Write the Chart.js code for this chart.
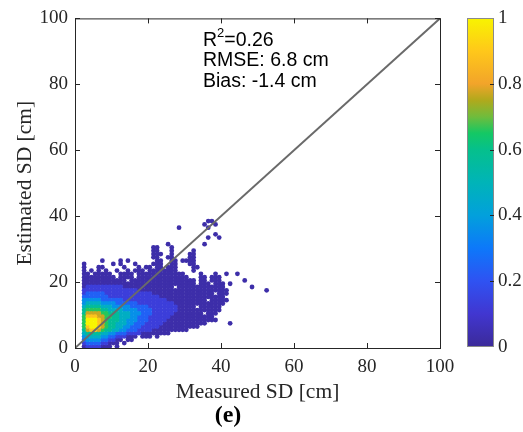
<!DOCTYPE html>
<html>
<head>
<meta charset="utf-8">
<script src="https://cdn.jsdelivr.net/npm/chart.js@4.4.0/dist/chart.umd.min.js"></script>
<style>
  html, body { margin: 0; padding: 0; background: #fff; }
  canvas { display: block; }
</style>
</head>
<body>
<canvas id="chart" width="523" height="432"></canvas>
<script>
// density cells: one string per 1 cm row of estimated SD (first row = 38 cm),
// one char per 1 cm column of measured SD (0..54 cm), '|' every 10 columns.
// '.' = no point, 0..9 = colour level (see levelDensity)
const gridTopRow = 38;
const densityRows = [
  "..........|..........|..........|......00..|..........|.....", // 38
  "..........|..........|..........|.....0..0.|..........|.....",
  "..........|..........|........0.|......0...|..........|.....",
  "..........|..........|..........|..........|..........|.....",
  "..........|..........|..........|........0.|..........|.....",
  "..........|..........|..........|......0..0|..........|.....", // 33
  "..........|..........|..........|..........|..........|.....",
  "..........|..........|.....0....|.....0....|..........|.....",
  "..........|..........|.00...0...|..........|..........|.....", // 30
  "..........|..........|.00...0...|..0.......|..........|.....",
  "..........|..........|.000..0...|.00.......|..........|.....",
  "..........|..........|.00..00...|.00.......|..........|.....",
  ".......0..|..0.0.....|..00..00.0|000.......|..........|.....",
  "..0.......|0.0...0...|.000..00..|.00.......|..........|.....", // 25
  "..0...00..|...0...0.0|0.00.000..|..00......|..........|.....",
  "..0.0.0.0.|.0..0.000.|00000000..|..0.......|..........|.....",
  "..00.00000|..0000.000|0000000000|....0...0.|.0..0.....|.....",
  "..00000000|0.0000.000|0000000000|0...00.000|..........|.....",
  "..00000000|0000.00000|0000000000|000.00.000|......0...|.....", // 20
  "..00000000|0000000000|0000000000|000.000.00|0.0.......|.....",
  "..01111111|1110000000|0000000.00|0000000000|0.......0.|.....",
  "..11111111|1111111000|0000000000|0000000000|00........|..0..",
  "..12222211|1111111111|1000000000|00000000.0|00........|.....",
  "..22222221|1111111111|1110000000|0000000000|0.........|.....", // 15
  "..33333222|2221111111|1111100000|000000.000|00........|.....",
  "..34444333|3222222111|1111111000|0000000000|0.........|.....",
  "..45555444|3333322222|1111111100|000.000000|..........|.....",
  "..56666554|4443333222|2111111100|0000000000|..........|.....",
  "..57777665|5544433322|2111111000|00000.000.|..........|.....", // 10
  "..68887766|5544433222|1111110000|00000000..|..........|.....",
  "..69998765|5544333222|1111100000|000000000.|..........|.....",
  "..69998765|5444332221|1111000000|000000....|..0.......|.....",
  "..68998765|5443322211|1110000000|0000......|..........|.....",
  "..57887655|4433222111|1000000000|0.........|..........|.....", // 5
  "..45555443|3222111100|000000....|..........|..........|.....",
  "..34444332|2111000.00|0.0.......|..........|..........|.....",
  "..23333221|100.00....|..........|..........|..........|.....",
  "..12222110|00.0......|..........|..........|..........|.....",
  "..01111000|.0........|..........|..........|..........|....."  // 0
];
const levelDensity = [0.03, 0.13, 0.24, 0.36, 0.47, 0.57, 0.66, 0.77, 0.89, 1.0];

const xTickValues = [0, 20, 40, 60, 80, 100];
const yTickValues = [0, 20, 40, 60, 80, 100];
const colorbarTicks = [0, 0.2, 0.4, 0.6, 0.8, 1];
const colorbarLabels = ['0', '0.2', '0.4', '0.6', '0.8', '1'];
const oneToOneX = [0, 100];
const oneToOneY = [0, 100];
const statR2 = '0.26';
const statRmse = '6.8 cm';
const statBias = '-1.4 cm';
const panelLabel = '(e)';

// colormap of the colour bar
const cmapPos = [0, 0.1, 0.2, 0.3, 0.4, 0.5, 0.6, 0.65, 0.7, 0.75, 0.8, 0.9, 1];
const cmapCol = ['#3b2a98', '#4136d0', '#2f52f2', '#0d78fa', '#02a0dc', '#00b4b8',
                 '#05c08c', '#14c864', '#70bc3c', '#b0a91c', '#f2a42a', '#ffc81a', '#f8f400'];

function hexRgb(h) {
  return [parseInt(h.slice(1, 3), 16), parseInt(h.slice(3, 5), 16), parseInt(h.slice(5, 7), 16)];
}
function colormap(v) {
  v = Math.max(0, Math.min(1, v));
  for (let i = 1; i < cmapPos.length; i++) {
    if (v <= cmapPos[i]) {
      const t = (v - cmapPos[i - 1]) / (cmapPos[i] - cmapPos[i - 1]);
      const a = hexRgb(cmapCol[i - 1]), b = hexRgb(cmapCol[i]);
      const c = a.map((k, j) => Math.round(k + (b[j] - k) * t));
      return `rgb(${c[0]},${c[1]},${c[2]})`;
    }
  }
  return cmapCol[cmapCol.length - 1];
}

// cells -> points, low density first so yellow sits on top
const points = [];
densityRows.forEach((row, i) => {
  const cells = row.replace(/\|/g, '');
  for (let x = 0; x < cells.length; x++) {
    const c = cells[x];
    if (c === '.') continue;
    points.push({ x: x + 0.5, y: gridTopRow - i + 0.5, v: levelDensity[+c] });
  }
});
points.sort((a, b) => a.v - b.v);

const axisColor = '#262626';
const serif = '"Liberation Serif", "Times New Roman", serif';
const sans = '"Liberation Sans", Arial, sans-serif';

const decor = {
  id: 'decor',
  beforeDraw(chart) {
    const ctx = chart.ctx;
    ctx.save();
    ctx.fillStyle = '#fff';
    ctx.fillRect(0, 0, chart.width, chart.height);
    ctx.restore();
  },
  afterDatasetsDraw(chart) {
    const { ctx, chartArea: a, scales: { x, y } } = chart;
    ctx.save();
    // box + inward ticks
    ctx.strokeStyle = axisColor;
    ctx.lineWidth = 1;
    ctx.strokeRect(a.left + 0.5, a.top + 0.5, a.right - a.left, a.bottom - a.top);
    ctx.beginPath();
    xTickValues.forEach(v => {
      const px = Math.round(x.getPixelForValue(v)) + 0.5;
      ctx.moveTo(px, a.bottom); ctx.lineTo(px, a.bottom - 5);
      ctx.moveTo(px, a.top); ctx.lineTo(px, a.top + 5);
    });
    yTickValues.forEach(v => {
      const py = Math.round(y.getPixelForValue(v)) + 0.5;
      ctx.moveTo(a.left, py); ctx.lineTo(a.left + 5, py);
      ctx.moveTo(a.right, py); ctx.lineTo(a.right - 5, py);
    });
    ctx.stroke();

    // stats text
    ctx.fillStyle = '#000';
    ctx.textBaseline = 'alphabetic';
    ctx.textAlign = 'left';
    const tx = 203;
    ctx.font = '19.5px ' + sans;
    ctx.fillText('R', tx, 46);
    const wR = ctx.measureText('R').width;
    ctx.font = '13px ' + sans;
    ctx.fillText('2', tx + wR, 37);
    const w2 = ctx.measureText('2').width;
    ctx.font = '19.5px ' + sans;
    ctx.fillText('=' + statR2, tx + wR + w2, 46);
    ctx.fillText('RMSE: ' + statRmse, tx, 66);
    ctx.fillText('Bias: ' + statBias, tx, 87);

    // colour bar
    const cbL = 467, cbR = 494, cbT = 18, cbB = 347;
    const g = ctx.createLinearGradient(0, cbB, 0, cbT);
    cmapPos.forEach((p, i) => g.addColorStop(p, cmapCol[i]));
    ctx.fillStyle = g;
    ctx.fillRect(cbL, cbT, cbR - cbL, cbB - cbT);
    ctx.strokeStyle = '#8a8a8a';
    ctx.strokeRect(cbL + 0.5, cbT + 0.5, cbR - cbL - 1, cbB - cbT - 1);
    ctx.strokeStyle = axisColor;
    ctx.beginPath();
    ctx.font = '19px ' + serif;
    ctx.fillStyle = axisColor;
    ctx.textBaseline = 'middle';
    colorbarTicks.forEach((v, i) => {
      const py = cbB - v * (cbB - cbT);
      if (v > 0 && v < 1) {
        ctx.moveTo(cbR, Math.round(py) + 0.5);
        ctx.lineTo(cbR - 4, Math.round(py) + 0.5);
      }
      ctx.fillText(colorbarLabels[i], 498, py);
    });
    ctx.stroke();

    // panel label
    ctx.fillStyle = '#000';
    ctx.textAlign = 'center';
    ctx.textBaseline = 'alphabetic';
    ctx.font = 'bold 24px ' + serif;
    ctx.fillText(panelLabel, 228, 422);
    ctx.restore();
  }
};

new Chart(document.getElementById('chart'), {
  type: 'scatter',
  data: {
    datasets: [
      {
        type: 'line',
        label: '1:1',
        data: oneToOneX.map((v, i) => ({ x: v, y: oneToOneY[i] })),
        borderColor: '#6a6a6a',
        borderWidth: 2,
        pointRadius: 0,
        fill: false
      },
      {
        label: 'SD',
        data: points,
        pointRadius: 2.4,
        pointBorderWidth: 0,
        pointBackgroundColor: ctx => ctx.raw ? colormap(ctx.raw.v) : '#3b2a98'
      }
    ]
  },
  options: {
    responsive: false,
    animation: false,
    layout: { padding: { left: 0, right: 83, top: 18, bottom: 0 } },
    plugins: { legend: { display: false }, tooltip: { enabled: false } },
    scales: {
      x: {
        type: 'linear', min: 0, max: 100,
        afterBuildTicks: s => { s.ticks = xTickValues.map(v => ({ value: v })); },
        afterFit: s => { s.height = 84; },
        grid: { display: false, drawTicks: false },
        border: { display: false },
        ticks: { padding: 8, color: axisColor, font: { family: serif, size: 19 } },
        title: {
          display: true, text: 'Measured SD [cm]', color: axisColor,
          font: { family: serif, size: 21.5 }, padding: { top: 0, bottom: 27 }
        }
      },
      y: {
        type: 'linear', min: 0, max: 100,
        afterBuildTicks: s => { s.ticks = yTickValues.map(v => ({ value: v })); },
        afterFit: s => { s.width = 75; },
        grid: { display: false, drawTicks: false },
        border: { display: false },
        ticks: { padding: 7, color: axisColor, font: { family: serif, size: 19 } },
        title: {
          display: true, text: 'Estimated SD [cm]', color: axisColor,
          font: { family: serif, size: 21.5 }, padding: { top: 12, bottom: 0 }
        }
      }
    }
  },
  plugins: [decor]
});
</script>
</body>
</html>
